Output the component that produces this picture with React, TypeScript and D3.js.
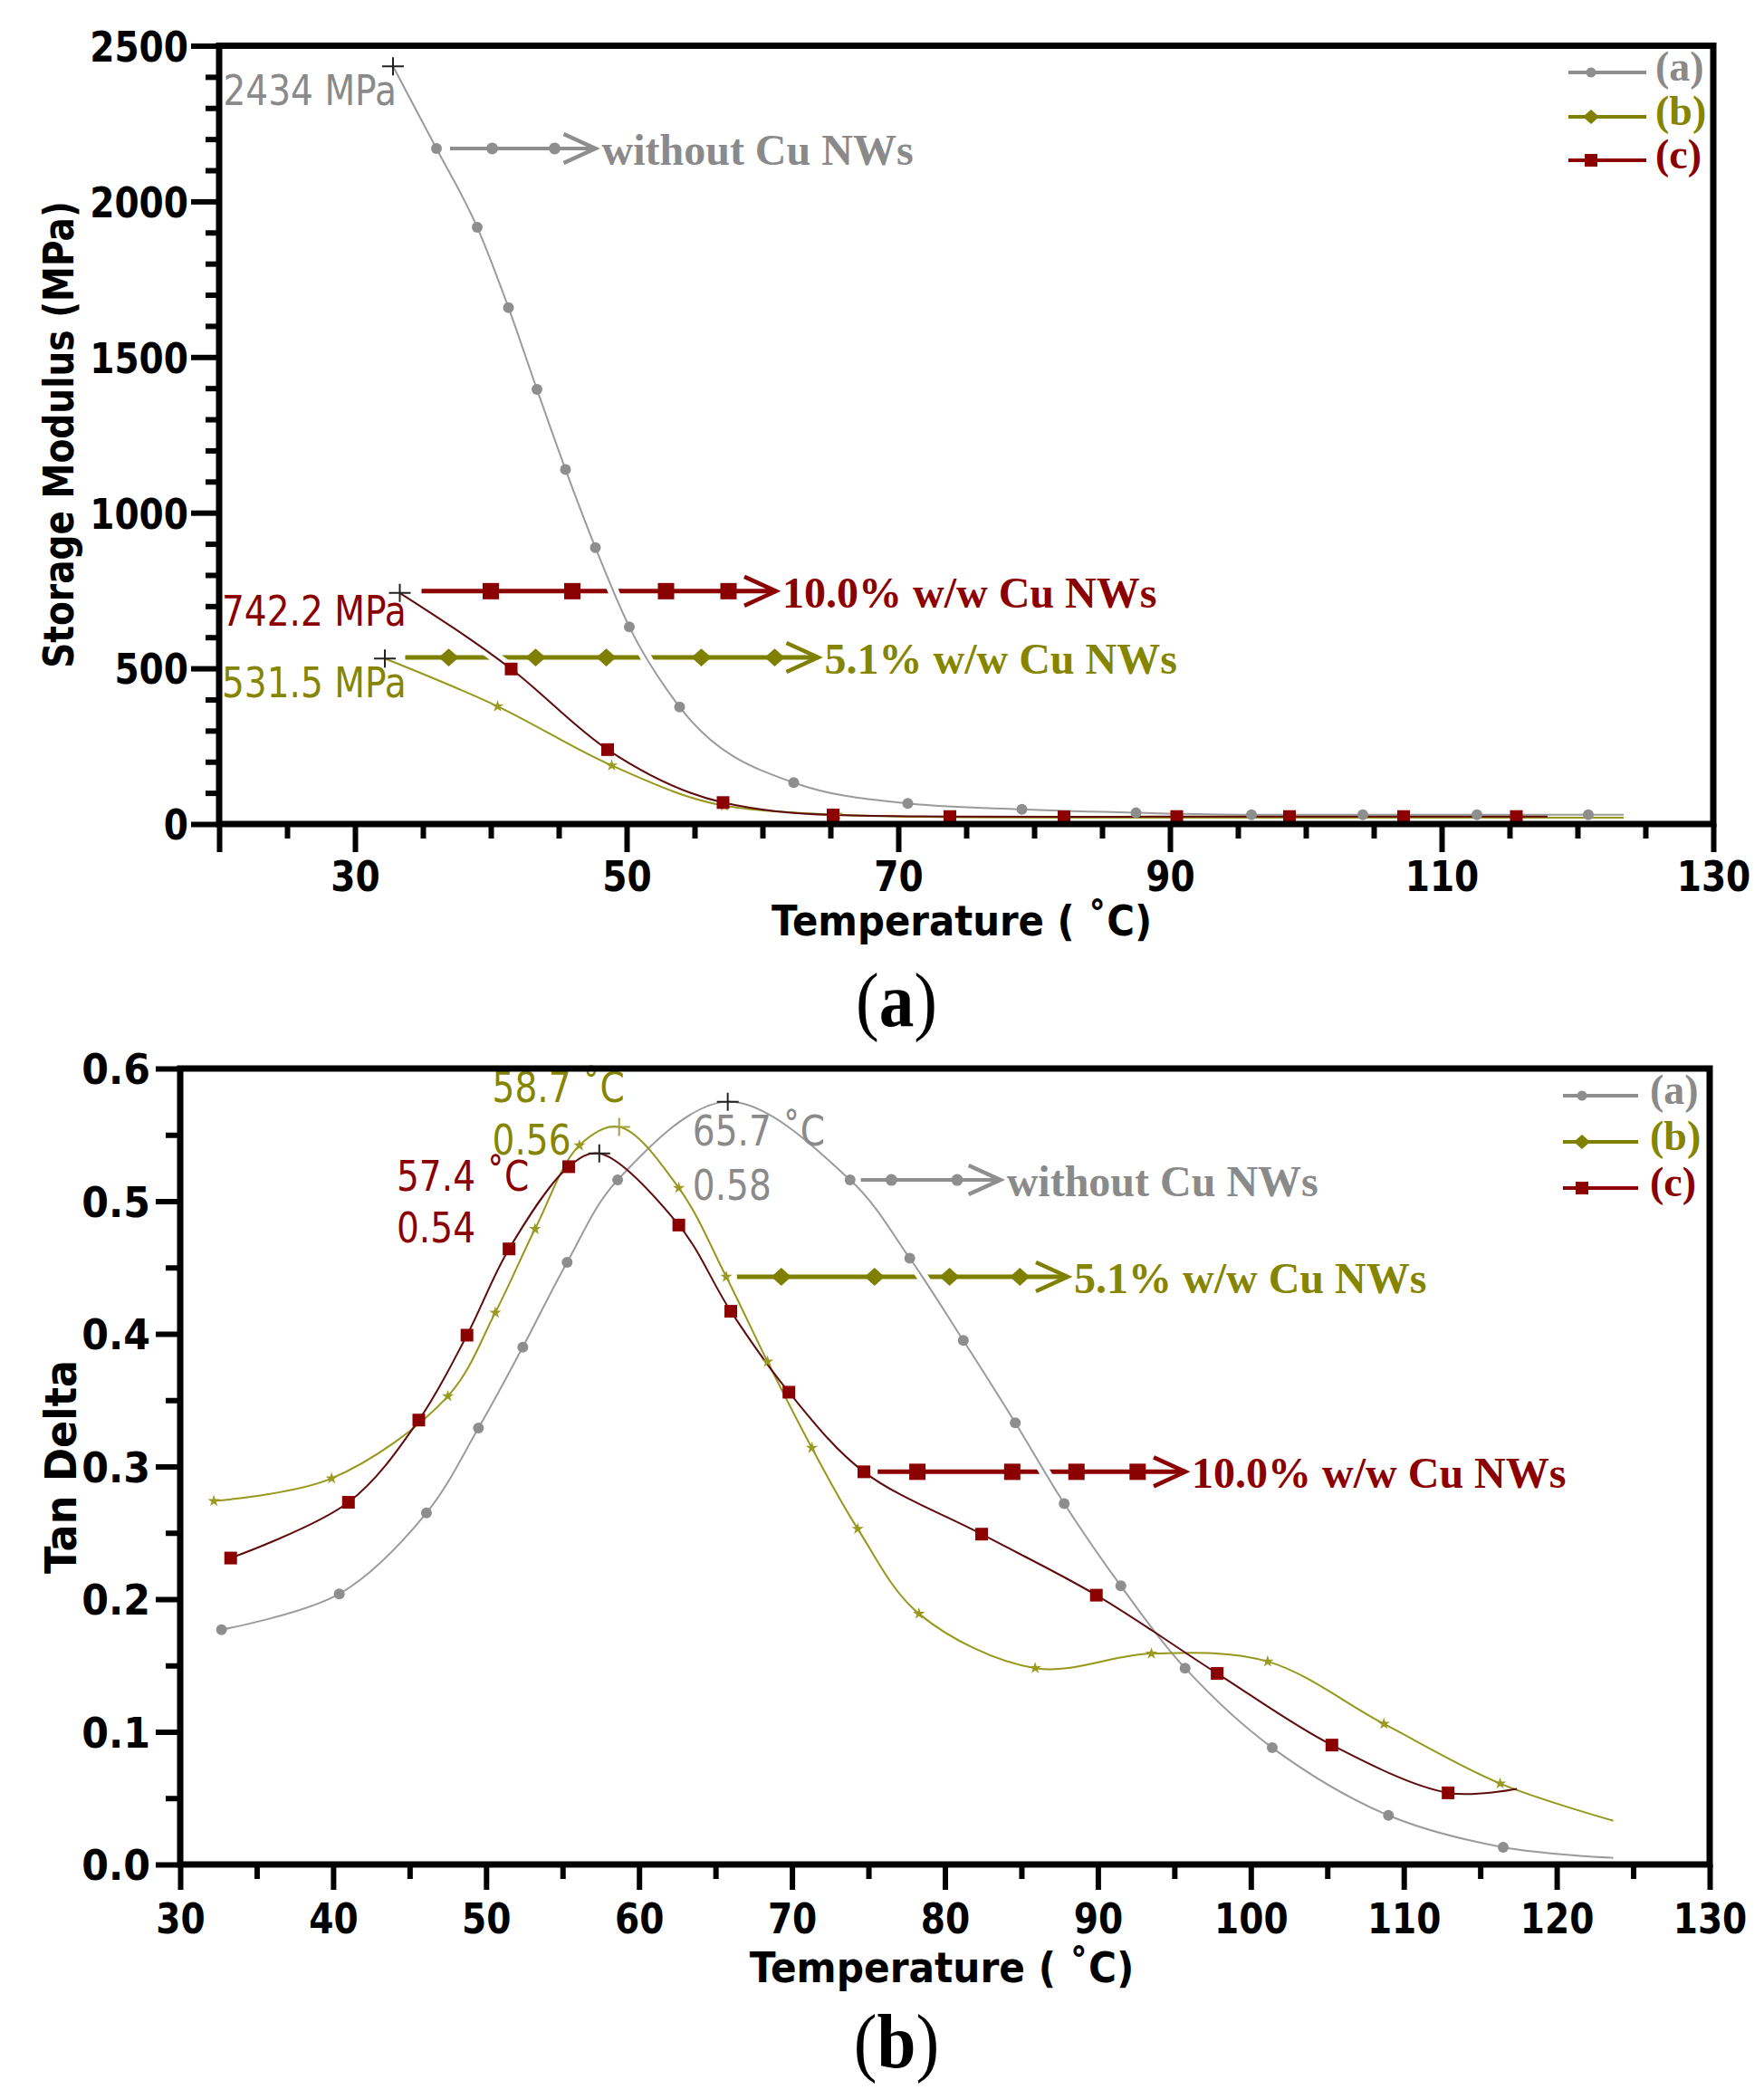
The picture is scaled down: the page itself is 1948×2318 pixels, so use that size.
import { useRef, useEffect } from "react";
import * as d3 from "d3";

const WIDTH = 1948;
const HEIGHT = 2318;

const SANS = "'DejaVu Sans', Verdana, sans-serif";
const SERIF = "'Liberation Serif', 'Times New Roman', serif";
const SX = 0.85; // the sans text in the figure is narrow
const FS = 46;

const SERIES = ["(a)", "(b)", "(c)"];
const COLORS = ["#8e8e8e", "#7f7f00", "#8b0000"];
const CURVE_COLORS = ["#9b9b9b", "#97971c", "#5e0b0b"];
const TEXT_COLORS = ["#8a8a8a", "#858500", "#8b0000"];
const arrowTexts = ["without Cu NWs", "5.1% w/w Cu NWs", "10.0% w/w Cu NWs"];

// ---- (a) storage modulus vs temperature ----
const smStartT = [32.8, 32.2, 33.3];
const smStartV = [2434, 531.5, 742.2];
const smEndT = [123.4, 123.4, 117.8];
const smEndV = [30, 20, 24];

const smTempA = [36.0, 39.0, 41.3, 43.4, 45.5, 47.7, 50.2, 53.9, 62.3, 70.7, 79.1, 87.5, 96.0, 104.2, 112.6, 120.8];
const smModA = [2170, 1917, 1659, 1396, 1139, 888, 633, 376, 133, 66, 47, 36, 30, 30, 30, 30];
const smTempB = [40.5, 48.9, 57.2, 65.5, 73.8, 82.2, 90.5, 98.8, 107.2, 115.5];
const smModB = [378, 188, 59, 30, 22, 20, 20, 20, 20, 20];
const smTempC = [41.5, 48.6, 57.1, 65.2, 73.8, 82.2, 90.5, 98.8, 107.2, 115.5];
const smModC = [498, 239, 69, 29, 24, 23, 24, 24, 24, 24];

const smLabels = ["2434 MPa", "531.5 MPa", "742.2 MPa"];
const smLabelT = [20.3, 20.2, 20.2];
const smLabelV = [2310, 407, 637];

const smArrowV = [2170, 535, 748];
const smArrowFrom = [37.0, 33.7, 34.9];
const smArrowTip = [47.9, 64.3, 61.2];
const smArrowMarks = [
  [40.1, 44.7],
  [36.9, 43.3, 48.5, 55.5, 60.9],
  [40.0, 46.0, 52.9, 57.5],
];

const smXMajor = [20, 30, 50, 70, 90, 110, 130];
const smXMinor = [25, 35, 40, 45, 55, 60, 65, 75, 80, 85, 95, 100, 105, 115, 120, 125];
const smYMajor = [0, 500, 1000, 1500, 2000, 2500];
const smYMinor = d3.range(100, 2500, 100).filter((d) => d % 500 !== 0);

// ---- (b) tan delta vs temperature ----
const tdTempA = [32.7, 40.4, 46.1, 49.5, 52.4, 55.3, 58.6, 73.8, 77.7, 81.2, 84.6, 87.8, 91.5, 95.7, 101.4, 109.0, 116.5];
const tdValA = [0.177, 0.204, 0.265, 0.329, 0.39, 0.454, 0.516, 0.516, 0.457, 0.395, 0.333, 0.272, 0.21, 0.148, 0.088, 0.037, 0.013];
const tdTempB = [32.2, 39.9, 47.5, 50.6, 53.2, 56.1, 62.6, 65.7, 68.4, 71.3, 74.3, 78.3, 85.9, 93.5, 101.1, 108.7, 116.3];
const tdValB = [0.274, 0.291, 0.353, 0.416, 0.479, 0.542, 0.51, 0.443, 0.379, 0.314, 0.253, 0.189, 0.148, 0.159, 0.153, 0.106, 0.061];
const tdTempC = [33.3, 41.0, 45.6, 48.75, 51.5, 55.4, 62.6, 66.0, 69.8, 74.7, 82.4, 89.9, 97.8, 105.3, 112.9];
const tdValC = [0.231, 0.273, 0.335, 0.399, 0.464, 0.526, 0.482, 0.417, 0.356, 0.296, 0.249, 0.203, 0.144, 0.09, 0.054];

const tdPeakT = [65.8, 58.7, 57.4];
const tdPeakV = [0.575, 0.556, 0.536];
const tdEndT = [123.7, 123.7, 117.4];
const tdEndV = [0.005, 0.033, 0.057];

const tdTempLabels = ["65.7 ˚C", "58.7 ˚C", "57.4 ˚C"];
const tdValLabels = ["0.58", "0.56", "0.54"];
const tdLabelT = [63.5, 50.4, 44.15];
const tdLabelV1 = [0.542, 0.5746, 0.508];
const tdLabelV2 = [0.501, 0.535, 0.469];

const tdArrowV = [0.516, 0.443, 0.296];
const tdArrowFrom = [74.5, 66.4, 75.6];
const tdArrowTip = [83.8, 88.2, 95.9];
const tdArrowMarks = [
  [76.5, 80.8],
  [69.3, 75.4, 80.3, 84.9],
  [78.2, 84.4, 88.6, 92.6],
];

const tdXMajor = d3.range(30, 131, 10);
const tdXMinor = d3.range(35, 130, 10);
const tdYMajor = d3.range(7).map((i) => i / 10);
const tdYMinor = d3.range(6).map((i) => i / 10 + 0.05);

type Pt = [number, number];
type Sel = d3.Selection<any, unknown, null, undefined>;
type Scale = d3.ScaleLinear<number, number>;

const zip = (t: number[], v: number[]): Pt[] => t.map((d, i) => [d, v[i]]);

function addText(
  parent: Sel,
  x: number,
  y: number,
  s: string,
  o: { size?: number; weight?: string; fill?: string; anchor?: string; family?: string; sx?: number; rot?: number } = {}
) {
  const { size = FS, weight = "normal", fill = "#000", anchor = "start", family = SANS, sx = SX, rot = 0 } = o;
  return parent
    .append("text")
    .attr("transform", `translate(${x},${y})${rot ? ` rotate(${rot})` : ""} scale(${sx},1)`)
    .attr("text-anchor", anchor)
    .attr("font-family", family)
    .attr("font-size", size)
    .attr("font-weight", weight)
    .attr("fill", fill)
    .text(s);
}

// kind: 0 circle, 1 diamond, 2 square
function drawMarker(g: Sel, kind: number, cx: number, cy: number, s: number, color: string) {
  if (kind === 0) {
    g.append("circle").attr("cx", cx).attr("cy", cy).attr("r", s / 2).attr("fill", color);
  } else if (kind === 2) {
    g.append("rect").attr("x", cx - s / 2).attr("y", cy - s / 2).attr("width", s).attr("height", s).attr("fill", color);
  } else {
    g.append("path")
      .attr("transform", `translate(${cx},${cy})`)
      .attr("d", `M${-s / 2},0L0,${-s * 0.45}L${s / 2},0L0,${s * 0.45}Z`)
      .attr("fill", color);
  }
}

const ARROW_SIZE = [13, 22, 18];
const LEGEND_SIZE = [11, 18, 14];

function drawAxes(
  g: Sel,
  x: Scale,
  y: Scale,
  o: {
    xMajor: number[];
    xMinor: number[];
    yMajor: number[];
    yMinor: number[];
    xFmt: (d: number) => string;
    yFmt: (d: number) => string;
    xLen: [number, number];
    yLen: [number, number];
    xLabelY: number;
    yLabelX: number;
    ySx: number;
  }
) {
  const [x0, x1] = x.range();
  const [y0, y1] = y.range();
  g.append("rect")
    .attr("x", x0)
    .attr("y", y1)
    .attr("width", x1 - x0)
    .attr("height", y0 - y1)
    .attr("fill", "none")
    .attr("stroke", "#000")
    .attr("stroke-width", 7);

  const style = (ax: Sel) => {
    ax.select(".domain").remove();
    ax.selectAll("line").attr("stroke", "#000").attr("stroke-width", 6);
    ax.selectAll("text")
      .attr("font-family", SANS)
      .attr("font-size", FS)
      .attr("font-weight", "bold")
      .attr("fill", "#000");
  };

  const bx = g
    .append("g")
    .attr("transform", `translate(0,${y0})`)
    .call(d3.axisBottom(x).tickValues(o.xMajor).tickSize(o.xLen[0]).tickFormat((d) => o.xFmt(+d)));
  style(bx);
  bx.selectAll("text").attr("y", null).attr("dy", null).attr("transform", `translate(0,${o.xLabelY}) scale(${SX},1)`);
  const bxm = g
    .append("g")
    .attr("transform", `translate(0,${y0})`)
    .call(d3.axisBottom(x).tickValues(o.xMinor).tickSize(o.xLen[1]).tickFormat(() => ""));
  style(bxm);

  const ly = g
    .append("g")
    .attr("transform", `translate(${x0},0)`)
    .call(d3.axisLeft(y).tickValues(o.yMajor).tickSize(o.yLen[0]).tickFormat((d) => o.yFmt(+d)));
  style(ly);
  ly.selectAll("text").attr("x", null).attr("dy", null).attr("transform", `translate(${-o.yLabelX},16.8) scale(${o.ySx},1)`);
  const lym = g
    .append("g")
    .attr("transform", `translate(${x0},0)`)
    .call(d3.axisLeft(y).tickValues(o.yMinor).tickSize(o.yLen[1]).tickFormat(() => ""));
  style(lym);
}

function drawCurves(g: Sel, x: Scale, y: Scale, curves: Pt[][], curve: d3.CurveFactory) {
  const line = d3
    .line<Pt>()
    .x((d) => x(d[0]))
    .y((d) => y(d[1]))
    .curve(curve);
  curves.forEach((c) => {
    g.append("path").datum(c).attr("fill", "none").attr("stroke", "#fff").attr("stroke-width", 12).attr("d", line);
  });
  curves.forEach((c, i) => {
    g.append("path").datum(c).attr("fill", "none").attr("stroke", CURVE_COLORS[i]).attr("stroke-width", 2).attr("d", line);
  });
}

function drawCurveMarkers(g: Sel, x: Scale, y: Scale, markers: Pt[][]) {
  markers.forEach((m, i) => {
    m.forEach(([t, v]) => {
      if (i === 1) {
        g.append("path")
          .attr("transform", `translate(${x(t)},${y(v)})`)
          .attr("d", d3.symbol(d3.symbolStar, 55)())
          .attr("fill", "#9a9a20");
      } else {
        drawMarker(g, i, x(t), y(v), i === 0 ? 12 : 14, COLORS[i]);
      }
    });
  });
}

function drawCross(g: Sel, cx: number, cy: number, color: string) {
  g.append("path")
    .attr("d", `M${cx - 12},${cy}H${cx + 12}M${cx},${cy - 10}V${cy + 10}`)
    .attr("stroke", color)
    .attr("stroke-width", 2);
}

function drawArrowLines(g: Sel, x: Scale, y: Scale, vals: number[], from: number[], tip: number[]) {
  vals.forEach((v, i) => {
    g.append("line")
      .attr("x1", x(from[i]))
      .attr("x2", x(tip[i]) - 3)
      .attr("y1", y(v))
      .attr("y2", y(v))
      .attr("stroke", COLORS[i])
      .attr("stroke-width", i === 0 ? 4 : 5);
  });
}

function drawArrowHeads(g: Sel, x: Scale, y: Scale, vals: number[], tip: number[], marks: number[][]) {
  vals.forEach((v, i) => {
    const tx = x(tip[i]);
    const ty = y(v);
    g.append("path")
      .attr("d", `M${tx - 38},${ty - 16}L${tx - 3},${ty}L${tx - 38},${ty + 16}`)
      .attr("fill", "none")
      .attr("stroke", COLORS[i])
      .attr("stroke-width", 4.5);
    marks[i].forEach((m) => drawMarker(g, i, x(m), ty, ARROW_SIZE[i], COLORS[i]));
    addText(g, tx + 4, ty + 18, arrowTexts[i], { size: 48, weight: "bold", family: SERIF, sx: 1, fill: TEXT_COLORS[i] });
  });
}

function drawLegend(g: Sel, rows: number[], lx0: number, lx1: number, mx: number, tx: number) {
  SERIES.forEach((s, i) => {
    g.append("line").attr("x1", lx0).attr("x2", lx1).attr("y1", rows[i]).attr("y2", rows[i]).attr("stroke", COLORS[i]).attr("stroke-width", 4);
    drawMarker(g, i, mx, rows[i], LEGEND_SIZE[i], COLORS[i]);
    addText(g, tx, rows[i] + 9, s, { size: 46, weight: "bold", family: SERIF, sx: 1, fill: TEXT_COLORS[i] });
  });
}

function drawCaption(g: Sel, cx: number, y: number, letter: string) {
  const t = g
    .append("text")
    .attr("transform", `translate(${cx},${y}) scale(0.92,1)`)
    .attr("text-anchor", "middle")
    .attr("font-family", SERIF)
    .attr("font-size", 84)
    .attr("fill", "#000");
  t.append("tspan").text("(");
  t.append("tspan").attr("font-weight", "bold").text(letter);
  t.append("tspan").text(")");
}

export default function App() {
  const ref = useRef<SVGSVGElement | null>(null);

  useEffect(() => {
    const svg = d3.select(ref.current) as unknown as Sel;
    svg.selectAll("*").remove();
    svg.append("rect").attr("width", WIDTH).attr("height", HEIGHT).attr("fill", "#fff");

    // ---------- panel (a): storage modulus ----------
    const xA = d3.scaleLinear().domain([20, 130]).range([242, 1892]);
    const yA = d3.scaleLinear().domain([0, 2500]).range([910, 50.5]);
    const gA = svg.append("g");

    const smMarkers: Pt[][] = [zip(smTempA, smModA), zip(smTempB, smModB), zip(smTempC, smModC)];
    const smCurves: Pt[][] = smMarkers.map((m, i) => [
      [smStartT[i], smStartV[i]] as Pt,
      ...m,
      [smEndT[i], smEndV[i]] as Pt,
    ]);

    drawArrowLines(gA, xA, yA, smArrowV, smArrowFrom, smArrowTip);
    drawCurves(gA, xA, yA, smCurves, d3.curveMonotoneX);
    drawArrowHeads(gA, xA, yA, smArrowV, smArrowTip, smArrowMarks);
    drawCurveMarkers(gA, xA, yA, smMarkers);
    smStartT.forEach((t, i) => drawCross(gA, xA(t), yA(smStartV[i]), "#222"));
    smLabels.forEach((s, i) => addText(gA, xA(smLabelT[i]), yA(smLabelV[i]), s, { fill: TEXT_COLORS[i] }));
    drawLegend(gA, [80, 129, 177], 1732, 1818, 1757, 1828);

    drawAxes(gA, xA, yA, {
      xMajor: smXMajor,
      xMinor: smXMinor,
      yMajor: smYMajor,
      yMinor: smYMinor,
      xFmt: (d) => (d === 20 ? "" : String(d)),
      yFmt: (d) => String(d),
      xLen: [31, 16],
      yLen: [31, 15],
      xLabelY: 74,
      yLabelX: 34,
      ySx: SX,
    });
    addText(gA, 1062, 1033, "Temperature ( ˚C)", { weight: "bold", anchor: "middle", sx: 0.91 });
    addText(gA, 81, 480, "Storage Modulus (MPa)", { weight: "bold", anchor: "middle", rot: -90 });
    drawCaption(gA, 990, 1133, "a");

    // ---------- panel (b): tan delta ----------
    const xB = d3.scaleLinear().domain([30, 130]).range([199, 1888]);
    const yB = d3.scaleLinear().domain([0, 0.6]).range([2059, 1180]);
    const gB = svg.append("g");

    const tdMarkers: Pt[][] = [zip(tdTempA, tdValA), zip(tdTempB, tdValB), zip(tdTempC, tdValC)];
    const tdCurves: Pt[][] = tdMarkers.map((m, i) =>
      [...m, [tdPeakT[i], tdPeakV[i]] as Pt, [tdEndT[i], tdEndV[i]] as Pt].sort((a, b) => a[0] - b[0])
    );

    drawArrowLines(gB, xB, yB, tdArrowV, tdArrowFrom, tdArrowTip);
    drawCurves(gB, xB, yB, tdCurves, d3.curveCatmullRom.alpha(0.5));
    drawArrowHeads(gB, xB, yB, tdArrowV, tdArrowTip, tdArrowMarks);
    drawCurveMarkers(gB, xB, yB, tdMarkers);
    tdPeakT.forEach((t, i) => drawCross(gB, xB(t), yB(tdPeakV[i]), i === 1 ? "#a3a340" : "#222"));
    tdTempLabels.forEach((s, i) => {
      addText(gB, xB(tdLabelT[i]), yB(tdLabelV1[i]), s, { fill: TEXT_COLORS[i] });
      addText(gB, xB(tdLabelT[i]), yB(tdLabelV2[i]), tdValLabels[i], { fill: TEXT_COLORS[i] });
    });
    drawLegend(gB, [1210, 1261, 1312], 1726, 1809, 1747, 1822);

    drawAxes(gB, xB, yB, {
      xMajor: tdXMajor,
      xMinor: tdXMinor,
      yMajor: tdYMajor,
      yMinor: tdYMinor,
      xFmt: (d) => String(d),
      yFmt: (d) => d3.format(".1f")(d),
      xLen: [28, 16],
      yLen: [27, 16],
      xLabelY: 76,
      yLabelX: 33,
      ySx: 0.93,
    });
    addText(gB, 1040, 2189, "Temperature ( ˚C)", { weight: "bold", anchor: "middle", sx: 0.92 });
    addText(gB, 84, 1620, "Tan Delta", { weight: "bold", anchor: "middle", rot: -90, size: 48, sx: 0.93 });
    drawCaption(gB, 990, 2283, "b");
  }, []);

  return (
    <svg
      ref={ref}
      width={WIDTH}
      height={HEIGHT}
      style={{ position: "absolute", left: 0, top: 0, display: "block" }}
    />
  );
}
